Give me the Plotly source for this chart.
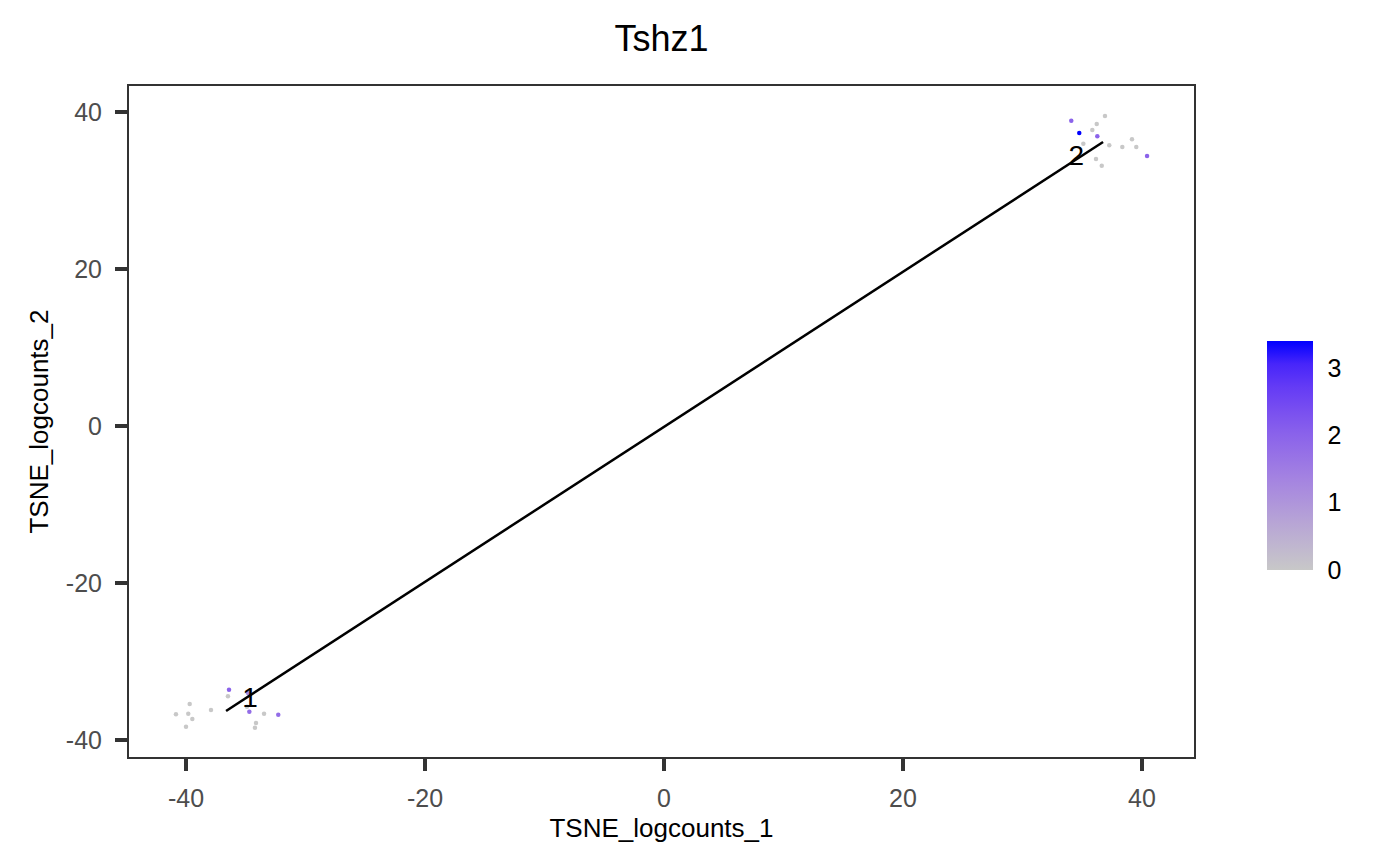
import numpy as np
import plotly.graph_objects as go

# ---- data ----
tsne1 = [34.08, 34.75, 36.90, 36.21, 35.84, 36.26, 35.09, 37.26, 38.35, 39.16, 39.52, 40.42, 36.15, 36.63,
         -40.84, -39.69, -39.81, -39.47, -40.00, -37.91, -36.40, -36.49, -34.79, -34.90, -34.70, -33.47, -32.28, -34.14, -34.23]
tsne2 = [38.89, 37.32, 39.49, 38.47, 37.71, 36.90, 35.96, 35.76, 35.54, 36.52, 35.54, 34.39, 34.01, 33.16,
         -36.73, -35.41, -36.65, -37.32, -38.31, -36.18, -33.59, -34.43, -34.05, -35.76, -36.39, -36.65, -36.78, -37.83, -38.43]
expr = [2.0, 3.4, 0, 0, 0, 2.0, 0, 0, 0, 0, 0, 2.0, 0, 0,
        0, 0, 0, 0, 0, 0, 2.0, 0, 1.3, 0, 1.8, 0, 1.8, 0, 0]
traj_x = [-36.65, 36.74]
traj_y = [-36.31, 36.18]
label_text = ["1", "2"]
label_x = [-34.64, 34.49]
label_y = [-34.94, 34.11]
axis_ticks = [-40, -20, 0, 20, 40]
axis_ticktext = ["-40", "-20", "0", "20", "40"]
cbar_ticks = [0, 1, 2, 3]
cbar_max = 3.4

# ---- colour scale (Lab interpolation grey -> blue like ggplot) ----
def srgb_to_lin(c):
    c = c / 255.0
    return np.where(c <= 0.04045, c / 12.92, ((c + 0.055) / 1.055) ** 2.4)
def lin_to_srgb(c):
    c = np.clip(c, 0, 1)
    v = np.where(c <= 0.0031308, 12.92 * c, 1.055 * c ** (1 / 2.4) - 0.055)
    return np.clip(np.round(v * 255), 0, 255).astype(int)
M = np.array([[0.4124, 0.3576, 0.1805], [0.2126, 0.7152, 0.0722], [0.0193, 0.1192, 0.9505]])
Minv = np.linalg.inv(M)
wp = np.array([0.95047, 1.0, 1.08883])
def f(t):
    return np.where(t > (6/29)**3, np.cbrt(t), t / (3*(6/29)**2) + 4/29)
def finv(t):
    return np.where(t > 6/29, t**3, 3*(6/29)**2*(t - 4/29))
def rgb2lab(rgb):
    xyz = M @ srgb_to_lin(np.array(rgb, float)) / wp
    fx, fy, fz = f(xyz)
    return np.array([116*fy - 16, 500*(fx - fy), 200*(fy - fz)])
def lab2rgb(lab):
    L, a, b = lab
    fy = (L + 16) / 116
    fx = fy + a / 500
    fz = fy - b / 200
    xyz = np.array([finv(fx), finv(fy), finv(fz)]) * wp
    return lin_to_srgb(Minv @ xyz)
lo = rgb2lab([200, 200, 200])
hi = rgb2lab([0, 0, 255])
cscale = []
for t in np.linspace(0, 1, 11):
    r, g, b = lab2rgb(lo + (hi - lo) * t)
    cscale.append([float(t), f"rgb({r},{g},{b})"])

order = np.argsort(expr, kind="stable")
xs = [tsne1[i] for i in order]
ys = [tsne2[i] for i in order]
cs = [expr[i] for i in order]

# ---- geometry (figure is drawn inside an 8px page margin) ----
W, H = 1384, 850
ML, MR, MT, MB = 121, 198, 78, 101
PW, PH = W - ML - MR, H - MT - MB
CB_LEN, CB_THICK = 229, 46
cb_x = 1.0685
cb_y = 0.4493
FONT = "Liberation Sans"

fig = go.Figure()
fig.add_trace(go.Scatter(
    x=xs, y=ys, mode="markers",
    marker=dict(size=4.5, color=cs, colorscale=cscale, cmin=0, cmax=cbar_max,
                colorbar=dict(
                    x=cb_x, xanchor="left", y=cb_y, yanchor="middle",
                    lenmode="pixels", len=CB_LEN, thickness=CB_THICK,
                    tickvals=cbar_ticks, ticks="outside", ticklen=10, tickcolor="rgba(255,255,255,0)",
                    outlinewidth=0,
                    tickfont=dict(size=25, color="black", family=FONT),
                    ypad=0, xpad=0),
                line=dict(width=0)),
    showlegend=False, hoverinfo="skip"))
fig.add_trace(go.Scatter(x=traj_x, y=traj_y, mode="lines",
                         line=dict(color="black", width=2.5), showlegend=False))
fig.add_trace(go.Scatter(x=label_x, y=label_y, mode="text", text=label_text,
                         textfont=dict(size=28, color="black", family=FONT),
                         showlegend=False))

# white tick marks on both sides of the colour bar (ggplot style)
bar_bottom = cb_y - CB_LEN / 2 / PH
for v in cbar_ticks:
    yv = bar_bottom + (v / cbar_max) * CB_LEN / PH
    for x0, x1 in [(cb_x, cb_x + 9 / PW), (cb_x + (CB_THICK - 9) / PW, cb_x + CB_THICK / PW)]:
        fig.add_shape(type="line", xref="paper", yref="paper", x0=x0, x1=x1, y0=yv, y1=yv,
                      line=dict(color="white", width=1.3), layer="above")

axis_common = dict(showgrid=False, zeroline=False, showline=True, mirror=True,
                   linecolor="#333333", linewidth=2, ticks="outside", ticklen=12,
                   tickwidth=4, tickcolor="#333333",
                   tickvals=axis_ticks, ticktext=axis_ticktext,
                   tickfont=dict(size=25, color="#4D4D4D", family=FONT))
fig.update_layout(
    width=W, height=H,
    paper_bgcolor="white", plot_bgcolor="white",
    margin=dict(l=ML, r=MR, t=MT, b=MB, autoexpand=False),
    title=dict(text="Tshz1", x=(ML + PW / 2) / W, xanchor="center", y=1 - 30 / H, yanchor="middle",
               font=dict(size=36, color="black", family=FONT)),
    xaxis=dict(range=[-44.77, 44.35], ticklabelstandoff=6,
               title=dict(text="TSNE_logcounts_1", font=dict(size=26, color="black", family=FONT), standoff=8),
               **axis_common),
    yaxis=dict(range=[-42.17, 43.31], ticklabelstandoff=8,
               title=dict(text="TSNE_logcounts_2", font=dict(size=26, color="black", family=FONT), standoff=10),
               **axis_common),
)
fig.write_html("out.html")
